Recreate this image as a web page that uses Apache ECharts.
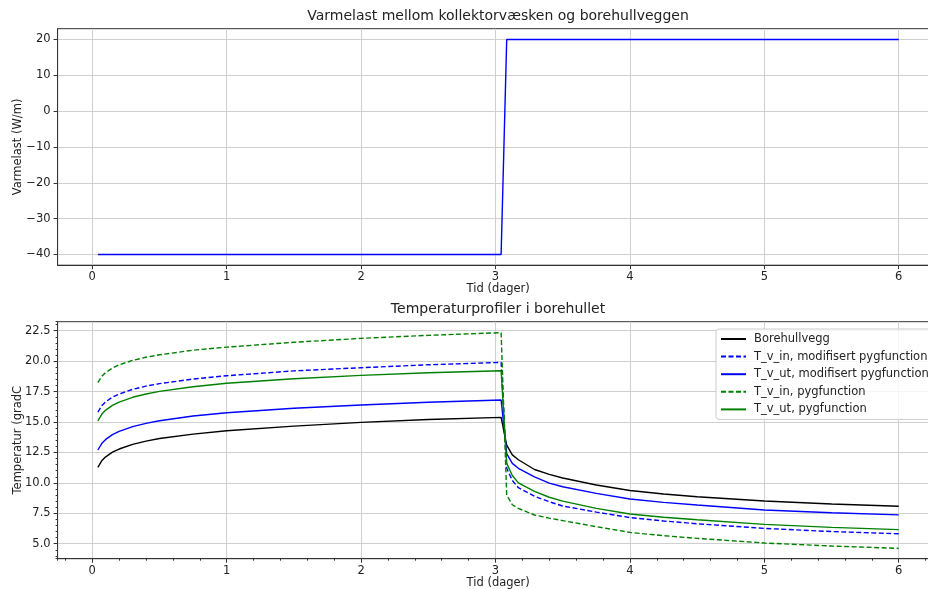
<!DOCTYPE html>
<html><head><meta charset="utf-8">
<script src="https://cdn.jsdelivr.net/npm/echarts@6/dist/echarts.min.js"></script>
<style>html,body{margin:0;padding:0;background:#fff}#c{width:928px;height:589px}</style>
</head><body><div id="c"></div>
<script>
// ---- data ----
const loadTimes = [0.0417, 3.0417, 3.0833, 6.0];
const loadValues = [-40, -40, 20, 20];

const times = [0.0417, 0.07, 0.1, 0.15, 0.2, 0.3, 0.4, 0.5, 0.75, 1, 1.5, 2, 2.5, 3.0417, 3.0833, 3.125, 3.17, 3.29, 3.4, 3.5, 3.75, 4, 4.25, 4.5, 5, 5.5, 6];
const borehullvegg = [11.28, 11.81, 12.14, 12.52, 12.78, 13.16, 13.43, 13.64, 14.0, 14.28, 14.66, 14.97, 15.2, 15.38, 13.1, 12.3, 11.9, 11.1, 10.7, 10.4, 9.82, 9.37, 9.08, 8.86, 8.51, 8.26, 8.08];
const tvInMod = [15.80, 16.33, 16.66, 17.04, 17.30, 17.68, 17.95, 18.15, 18.53, 18.80, 19.2, 19.46, 19.70, 19.90, 11.2, 10.2, 9.6, 8.9, 8.45, 8.1, 7.6, 7.15, 6.87, 6.64, 6.26, 6.0, 5.82];
const tvUtMod = [12.70, 13.23, 13.57, 13.96, 14.23, 14.62, 14.89, 15.10, 15.49, 15.76, 16.13, 16.40, 16.62, 16.81, 12.4, 11.6, 11.2, 10.5, 9.98, 9.68, 9.14, 8.67, 8.4, 8.18, 7.77, 7.54, 7.37];
const tvInPyg = [18.23, 18.74, 19.06, 19.43, 19.70, 20.06, 20.32, 20.52, 20.90, 21.15, 21.55, 21.87, 22.12, 22.34, 9.0, 8.2, 7.9, 7.36, 7.1, 6.9, 6.4, 5.93, 5.66, 5.44, 5.06, 4.81, 4.62];
const tvUtPyg = [15.10, 15.63, 15.98, 16.36, 16.64, 17.03, 17.30, 17.52, 17.9, 18.18, 18.55, 18.83, 19.05, 19.21, 11.6, 10.6, 10.0, 9.3, 8.82, 8.5, 7.9, 7.44, 7.18, 6.97, 6.59, 6.34, 6.16];

const dayTicks = [0, 1, 2, 3, 4, 5, 6];
const loadTicks = [-40, -30, -20, -10, 0, 10, 20];
const tempTicks = [5, 7.5, 10, 12.5, 15, 17.5, 20, 22.5];

const names = ['Borehullvegg', 'T_v_in, modifisert pygfunction', 'T_v_ut, modifisert pygfunction', 'T_v_in, pygfunction', 'T_v_ut, pygfunction'];

// ---- styling ----
const FONT = 'DejaVu Sans';
const TXT = '#222';
const AX = '#333';
const GRIDC = '#cfcfcf';
const LW = 1.4;
const X0 = -0.258, X1 = 6.298;

function pairs(xs, ys) { return xs.map((x, i) => [x, ys[i]]); }
function minus(v) { return v < 0 ? '\u2212' + Math.abs(v) : String(v); }

function mainX(gi, gap) {
  return {
    type: 'value', gridIndex: gi, min: X0, max: X1, position: 'bottom',
    name: 'Tid (dager)', nameLocation: 'middle', nameGap: gap, nameMoveOverlap: false,
    nameTextStyle: { fontFamily: FONT, fontSize: 11.5, color: TXT },
    axisLine: { show: true, onZero: false, lineStyle: { color: AX, width: 1 } },
    axisTick: { show: true, length: 4, lineStyle: { color: AX }, customValues: dayTicks },
    axisLabel: { fontFamily: FONT, fontSize: 11.5, color: TXT, margin: 6, customValues: dayTicks, formatter: v => String(v) },
    splitLine: { show: true, lineStyle: { color: GRIDC, width: 1 } }
  };
}

const option = {
  animation: false,
  backgroundColor: '#fff',
  title: [
    { text: 'Varmelast mellom kollektorvæsken og borehullveggen', left: 493, top: 4, textAlign: 'center',
      textStyle: { fontFamily: FONT, fontSize: 14, fontWeight: 'normal', color: TXT } },
    { text: 'Temperaturprofiler i borehullet', left: 493, top: 297, textAlign: 'center',
      textStyle: { fontFamily: FONT, fontSize: 14, fontWeight: 'normal', color: TXT } }
  ],
  grid: [
    { left: 57.6, width: 881.2, top: 28.7, height: 236.5, outerBoundsMode: 'none', containLabel: false,
      show: true, borderColor: AX, borderWidth: 1, backgroundColor: 'transparent' },
    { left: 57.6, width: 881.2, top: 321.7, height: 237, outerBoundsMode: 'none', containLabel: false,
      show: true, borderColor: AX, borderWidth: 1, backgroundColor: 'transparent' }
  ],
  legend: {
    data: names,
    orient: 'vertical', left: 716, top: 329,
    itemWidth: 25, itemHeight: 12, itemGap: 5.6,
    padding: [4, 4, 4, 4],
    itemStyle: { opacity: 0 },
    backgroundColor: 'rgba(255,255,255,0.8)', borderColor: '#cccccc', borderWidth: 1, borderRadius: 3,
    textStyle: { fontFamily: FONT, fontSize: 11.5, color: TXT, padding: [0, 0, 0, 3] },
    selectedMode: false
  },
  xAxis: [
    mainX(0, 18),
    mainX(1, 18),
    { // minor ticks bottom chart
      type: 'value', gridIndex: 1, min: X0, max: X1, splitNumber: 30, position: 'bottom',
      axisLine: { show: false, onZero: false }, axisLabel: { show: false }, splitLine: { show: false },
      axisTick: { show: true, length: 2, lineStyle: { color: AX } }
    }
  ],
  yAxis: [
    {
      type: 'value', gridIndex: 0, min: -43, max: 23, position: 'left',
      name: 'Varmelast (W/m)', nameLocation: 'middle', nameGap: 34, nameMoveOverlap: false,
      nameTextStyle: { fontFamily: FONT, fontSize: 11.5, color: TXT },
      axisLine: { show: true, onZero: false, lineStyle: { color: AX } },
      axisTick: { show: true, length: 4, lineStyle: { color: AX }, customValues: loadTicks },
      axisLabel: { fontFamily: FONT, fontSize: 11.5, color: TXT, margin: 7, customValues: loadTicks, formatter: minus },
      splitLine: { show: true, lineStyle: { color: GRIDC, width: 1 } }
    },
    {
      type: 'value', gridIndex: 1, min: 3.77, max: 23.24, position: 'left',
      name: 'Temperatur (gradC', nameLocation: 'middle', nameGap: 34, nameMoveOverlap: false,
      nameTextStyle: { fontFamily: FONT, fontSize: 11.5, color: TXT },
      axisLine: { show: true, onZero: false, lineStyle: { color: AX } },
      axisTick: { show: true, length: 4, lineStyle: { color: AX }, customValues: tempTicks },
      axisLabel: { fontFamily: FONT, fontSize: 11.5, color: TXT, margin: 7, customValues: tempTicks, formatter: v => v.toFixed(1) },
      splitLine: { show: true, lineStyle: { color: GRIDC, width: 1 } }
    },
    { // minor ticks
      type: 'value', gridIndex: 1, min: 3.77, max: 23.24, splitNumber: 40, position: 'left',
      axisLine: { show: false, onZero: false }, axisLabel: { show: false }, splitLine: { show: false },
      axisTick: { show: true, length: 2, lineStyle: { color: AX } }
    }
  ],
  series: [
    { type: 'line', name: 'Varmelast', xAxisIndex: 0, yAxisIndex: 0, data: pairs(loadTimes, loadValues),
      symbol: 'none', lineStyle: { color: '#0000ff', width: LW }, itemStyle: { color: '#0000ff' } },
    { type: 'line', name: names[0], xAxisIndex: 1, yAxisIndex: 1, data: pairs(times, borehullvegg),
      symbol: 'none', lineStyle: { color: '#000000', width: LW }, itemStyle: { color: '#000000' } },
    { type: 'line', name: names[1], xAxisIndex: 1, yAxisIndex: 1, data: pairs(times, tvInMod),
      symbol: 'none', lineStyle: { color: '#0000ff', width: LW, type: [5, 2.5] }, itemStyle: { color: '#0000ff' } },
    { type: 'line', name: names[2], xAxisIndex: 1, yAxisIndex: 1, data: pairs(times, tvUtMod),
      symbol: 'none', lineStyle: { color: '#0000ff', width: LW }, itemStyle: { color: '#0000ff' } },
    { type: 'line', name: names[3], xAxisIndex: 1, yAxisIndex: 1, data: pairs(times, tvInPyg),
      symbol: 'none', lineStyle: { color: '#008000', width: LW, type: [5, 2.5] }, itemStyle: { color: '#008000' } },
    { type: 'line', name: names[4], xAxisIndex: 1, yAxisIndex: 1, data: pairs(times, tvUtPyg),
      symbol: 'none', lineStyle: { color: '#008000', width: LW }, itemStyle: { color: '#008000' } }
  ]
};

const chart = echarts.init(document.getElementById('c'), null, { renderer: 'canvas' });
chart.setOption(option);
</script>
</body></html>
